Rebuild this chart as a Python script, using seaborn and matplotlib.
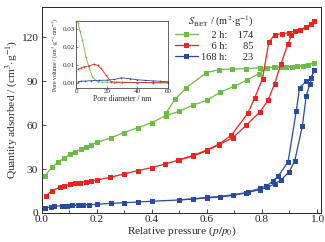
import matplotlib
matplotlib.use("Agg")
import matplotlib.pyplot as plt
import pandas as pd
import seaborn as sns

# isotherm data, relative pressure vs quantity adsorbed (cm3/g)
ads_2h_x = [0.011, 0.035, 0.059, 0.08, 0.102, 0.12, 0.141, 0.16, 0.18, 0.201, 0.25, 0.30, 0.35,
            0.40, 0.45, 0.50, 0.55, 0.60, 0.65, 0.70, 0.745, 0.79, 0.82, 0.85, 0.87, 0.89, 0.91,
            0.93, 0.95, 0.97, 0.99]
ads_2h_y = [25.2, 31.2, 35.0, 37.3, 40.2, 41.8, 43.4, 45.2, 46.8, 48.2, 51.4, 55.0, 58.4,
            61.8, 66.4, 69.6, 73.7, 77.0, 82.7, 86.6, 90.7, 95.3, 99.4, 99.6, 99.7, 99.8, 100.0,
            100.3, 100.6, 101.2, 102.8]
des_2h_x = [0.99, 0.97, 0.95, 0.93, 0.91, 0.89, 0.87, 0.845, 0.82, 0.793, 0.742, 0.693, 0.645,
            0.599, 0.526, 0.484, 0.453]
des_2h_y = [102.8, 101.0, 100.5, 100.2, 100.0, 99.8, 99.7, 99.5, 99.4, 99.2, 98.7, 98.5, 98.0,
            96.0, 85.7, 77.7, 68.7]

ads_6h_x = [0.0145, 0.035, 0.065, 0.081, 0.102, 0.12, 0.138, 0.159, 0.178, 0.199, 0.247, 0.298,
            0.348, 0.399, 0.447, 0.496, 0.55, 0.60, 0.645, 0.696, 0.744, 0.793, 0.823, 0.847,
            0.87, 0.896, 0.908, 0.938, 0.962, 0.98, 0.99]
ads_6h_y = [11.6, 15.2, 17.5, 18.4, 19.6, 20.2, 20.7, 21.4, 22.1, 22.5, 24.3, 26.6,
            28.9, 31.0, 33.4, 36.1, 38.9, 42.5, 46.8, 51.6, 60.0, 69.0, 77.0, 88.4,
            102.0, 115.7, 121.4, 125.3, 127.0, 129.4, 131.6]
des_6h_x = [0.99, 0.98, 0.962, 0.938, 0.92, 0.90, 0.875, 0.847, 0.826, 0.803, 0.775, 0.75,
            0.69, 0.645, 0.60, 0.55, 0.50]
des_6h_y = [131.6, 129.4, 127.0, 125.3, 124.5, 123.2, 122.6, 121.9, 116.8, 91.9, 78.9, 68.4,
            53.2, 47.2, 43.0, 39.3, 36.4]

ads_168h_x = [0.013, 0.033, 0.045, 0.072, 0.09, 0.11, 0.13, 0.15, 0.17, 0.20, 0.25, 0.30, 0.35,
              0.40, 0.50, 0.55, 0.60, 0.647, 0.696, 0.75, 0.793, 0.82, 0.847, 0.87, 0.90, 0.92,
              0.948, 0.962, 0.975, 0.99]
ads_168h_y = [3.2, 4.3, 4.5, 5.0, 5.0, 5.2, 5.3, 5.4, 5.6, 5.9, 6.6, 7.0, 7.5,
              8.0, 8.9, 9.5, 10.3, 10.9, 12.0, 14.0, 16.0, 17.6, 19.8, 22.5, 28.2, 35.5,
              59.5, 80.0, 88.0, 97.5]
des_168h_x = [0.99, 0.98, 0.962, 0.938, 0.926, 0.896, 0.86, 0.84, 0.817, 0.793, 0.744, 0.696,
              0.647, 0.60, 0.55, 0.50]
des_168h_y = [97.5, 92.5, 90.0, 85.7, 70.0, 35.0, 25.2, 21.6, 18.4, 16.8, 13.9, 12.5,
              11.2, 10.6, 9.6, 9.0]

# pore size distribution (inset)
psd_2h_x = [1.3, 2.5, 4.2, 6.4, 8.6, 10.7, 14, 17, 20, 25, 30, 40, 50, 60]
psd_2h_y = [0.0335, 0.029, 0.0239, 0.0146, 0.0082, 0.0035, 0.0007, 0.0005, 0.0004, 0.0003,
            0.0003, 0.0002, 0.0001, 0.0001]
psd_6h_x = [1.3, 3, 5, 8.6, 11.8, 14, 16.2, 19.5, 22.8, 26, 30, 40, 50, 60]
psd_6h_y = [0.0076, 0.0082, 0.009, 0.0095, 0.0105, 0.0098, 0.0082, 0.0044, 0.0007, 0.0005,
            0.0004, 0.0003, 0.0002, 0.0001]
psd_168h_x = [1.3, 3, 6, 10, 15, 20, 25, 29.4, 35, 40, 45, 50, 55, 60]
psd_168h_y = [0.0008, 0.001, 0.0011, 0.0013, 0.0015, 0.0016, 0.002, 0.0029, 0.0024, 0.0018,
              0.0015, 0.0012, 0.001, 0.0007]

labels = ["    2 h:    174", "    6 h:      85", "168 h:      23"]
colors = ["#6cbd45", "#e8251e", "#2a4aa0"]

sns.set_style("ticks")
plt.rcParams["font.family"] = ["Liberation Serif", "DejaVu Serif"]
plt.rcParams["mathtext.fontset"] = "stix"
plt.rcParams["xtick.direction"] = "in"
plt.rcParams["ytick.direction"] = "in"

fig = plt.figure(figsize=(3.25, 2.42), dpi=100)
ax = fig.add_axes([0.129, 0.12, 0.858, 0.852])

series = [
    (ads_2h_x, ads_2h_y, des_2h_x, des_2h_y),
    (ads_6h_x, ads_6h_y, des_6h_x, des_6h_y),
    (ads_168h_x, ads_168h_y, des_168h_x, des_168h_y),
]
for (ax_, ay_, dx_, dy_), c, lab in zip(series, colors, labels):
    sns.lineplot(x=ax_, y=ay_, sort=False, color=c, marker="s", markersize=3.6,
                 markeredgewidth=0, linewidth=0.9, label=lab, ax=ax)
    sns.lineplot(x=dx_, y=dy_, sort=False, color=c, marker="s", markersize=3.6,
                 markeredgewidth=0, linewidth=0.9, ax=ax)

ax.set_xlim(0, 1.015)
ax.set_ylim(0, 141)
ax.set_xticks([0.0, 0.2, 0.4, 0.6, 0.8, 1.0])
ax.set_xticks([0.1, 0.3, 0.5, 0.7, 0.9], minor=True)
ax.set_yticks([0, 30, 60, 90, 120])
ax.tick_params(labelsize=8.2, length=3, width=0.6, pad=1.5)
ax.tick_params(axis="y", pad=3)
ax.tick_params(which="minor", length=2, width=0.6)
for s in ax.spines.values():
    s.set_linewidth(0.7)
ax.set_xlabel(r"Relative pressure ($p/p_0$)", fontsize=8.2, labelpad=0)
ax.set_ylabel(r"Quantity adsorbed / (cm$^3$$\cdot$g$^{-1}$)", fontsize=8.2, labelpad=1.5)

leg = ax.legend(title=r"$S_{\rm BET}$ / (m$^2$$\cdot$g$^{-1}$)", loc="upper left",
                bbox_to_anchor=(0.45, 1.0), frameon=False, fontsize=7.5,
                title_fontsize=7.5, handlelength=2.2, handletextpad=0.3,
                labelspacing=0.15, borderaxespad=0.3)
leg._legend_box.align = "right"

# inset: pore size distribution
ins = fig.add_axes([0.234, 0.636, 0.283, 0.277])
for px, py, c in zip([psd_2h_x, psd_6h_x, psd_168h_x], [psd_2h_y, psd_6h_y, psd_168h_y], colors):
    sns.lineplot(x=px, y=py, sort=False, color=c, marker="o", markersize=1.2,
                 markeredgewidth=0, linewidth=0.6, ax=ins)
ins.set_xlim(0, 60)
ins.set_ylim(-0.0028, 0.0344)
ins.set_xticks([0, 20, 40, 60])
ins.set_yticks([0.00, 0.01, 0.02, 0.03])
ins.set_yticklabels(["0.00", "0.01", "0.02", "0.03"])
ins.tick_params(labelsize=5, length=1.5, width=0.4, pad=1)
for s in ins.spines.values():
    s.set_linewidth(0.5)
ins.set_xlabel("Pore diameter / nm", fontsize=5.5, labelpad=0.5)
ins.set_ylabel(r"Pore volume / (cm$^3$$\cdot$g$^{-1}$$\cdot$nm$^{-1}$)", fontsize=4.2, labelpad=1)

fig.savefig("out.png", dpi=100)
